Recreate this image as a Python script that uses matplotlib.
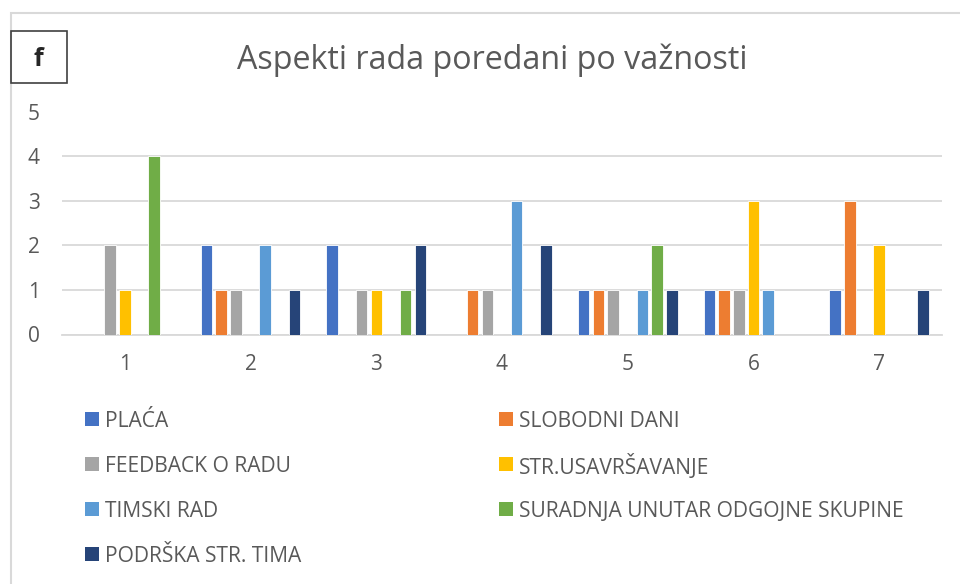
import matplotlib
matplotlib.use("Agg")
import matplotlib.pyplot as plt
import numpy as np
from matplotlib.patches import Rectangle

plt.rcParams['font.family'] = ['Open Sans', 'DejaVu Sans']

# data: rank position 1..7, number of answers per aspect
categories = ['1', '2', '3', '4', '5', '6', '7']
series_names = ['PLAĆA', 'SLOBODNI DANI', 'FEEDBACK O RADU', 'STR.USAVRŠAVANJE',
                'TIMSKI RAD', 'SURADNJA UNUTAR ODGOJNE SKUPINE', 'PODRŠKA STR. TIMA']
placa     = [0, 2, 2, 0, 1, 1, 1]
slobodni  = [0, 1, 0, 1, 1, 1, 3]
feedback  = [2, 1, 1, 1, 1, 1, 0]
usavr     = [1, 0, 1, 0, 0, 3, 2]
timski    = [0, 2, 0, 3, 1, 1, 0]
suradnja  = [4, 0, 1, 0, 2, 0, 0]
podrska   = [0, 1, 2, 2, 1, 0, 1]
series = [placa, slobodni, feedback, usavr, timski, suradnja, podrska]
colors = ['#4472C4', '#ED7D31', '#A5A5A5', '#FFC000', '#5B9BD5', '#70AD47', '#264478']
title = 'Aspekti rada poredani po važnosti'

txt = '#595959'
W, H = 960, 584
fig = plt.figure(figsize=(9.6, 5.84), dpi=100)

# plot area in pixels
x0, x1, y0, y5 = 62, 942, 334.5, 111.5
ax = fig.add_axes([x0 / W, 1 - y0 / H, (x1 - x0) / W, (y0 - y5) / H])

x = np.arange(len(categories))
slot = 0.117
bw = 0.092
for i, (vals, c) in enumerate(zip(series, colors)):
    ax.bar(x + (i - 3) * slot, vals, width=bw, color=c, edgecolor='white',
           linewidth=0.6, label=series_names[i], zorder=3)

ax.set_xlim(-0.5, len(categories) - 0.5)
ax.set_ylim(0, 5)
ax.set_yticks(range(6))
ax.set_xticks(x)
ax.set_xticklabels(categories)
ax.yaxis.grid(True, color='#D9D9D9', linewidth=1.3, zorder=0)
ax.set_axisbelow(True)
for s in ['top', 'right', 'left']:
    ax.spines[s].set_visible(False)
ax.spines['bottom'].set_color('#D9D9D9')
ax.spines['bottom'].set_linewidth(1.3)
ax.tick_params(axis='both', length=0, labelsize=15, labelcolor=txt)
ax.tick_params(axis='y', pad=16)
ax.tick_params(axis='x', pad=14)

# title
fig.text(492 / W, 1 - 60 / H, title, fontsize=23.2, color=txt, ha='center', va='center')

# outer chart frame (cut at right/bottom edge)
fig.patches.append(Rectangle((11 / W, -0.1), 1.2, 1 - 12.7 / H + 0.1, transform=fig.transFigure,
                             fill=False, edgecolor='#D9D9D9', linewidth=1.5))
# "f" label box
fig.patches.append(Rectangle((11 / W, 1 - 83 / H), 56 / W, 52 / H, transform=fig.transFigure,
                             fill=False, edgecolor='#404040', linewidth=1.2))
fig.text(38 / W, 1 - 59 / H, 'f', fontsize=18, fontweight='bold', color='#262626',
         ha='center', va='center')

# legend, two columns, filled row by row
col_x = [85, 499]
row_y = [419, 464, 509, 554]
for i, (name, c) in enumerate(zip(series_names, colors)):
    lx = col_x[i % 2]
    ly = row_y[i // 2]
    fig.patches.append(Rectangle((lx / W, 1 - (ly + 7) / H), 14 / W, 14 / H,
                                 transform=fig.transFigure, facecolor=c, edgecolor='none'))
    fig.text((lx + 20) / W, 1 - ly / H, name, fontsize=15.1, color=txt,
             ha='left', va='center_baseline')

fig.savefig('out.png', dpi=100)
